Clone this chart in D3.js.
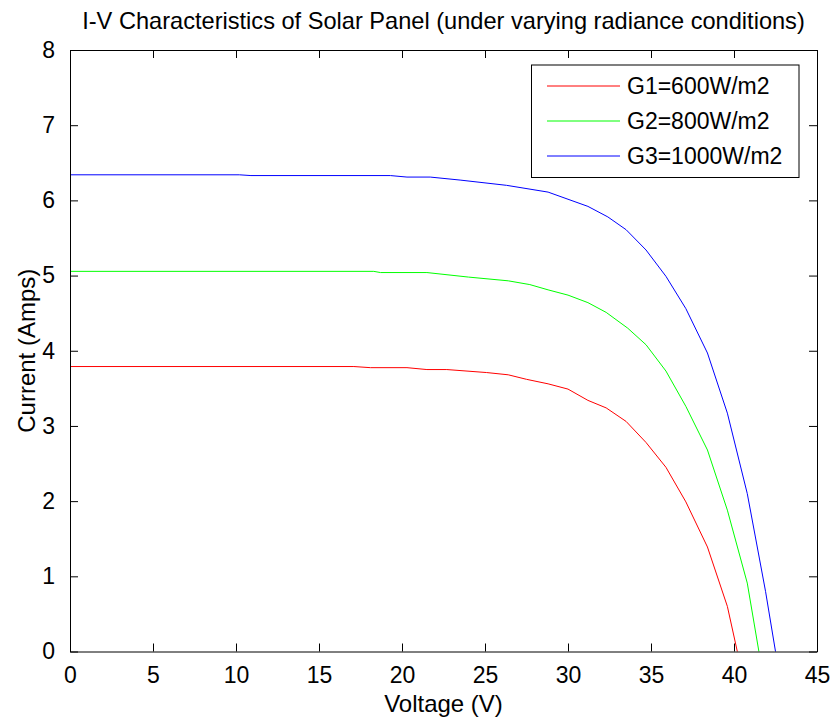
<!DOCTYPE html>
<html>
<head>
<meta charset="utf-8">
<script src="https://cdn.jsdelivr.net/npm/d3@7"></script>
<style>
  html, body { margin: 0; padding: 0; background: #fff; }
  svg { display: block; }
  text { font-family: "Liberation Sans", Arial, Helvetica, sans-serif; fill: #000; }
</style>
</head>
<body>
<svg id="chart" width="834" height="721"></svg>
<script>
// ---- data ----
const title = "I-V Characteristics of Solar Panel (under varying radiance conditions)";
const xLabel = "Voltage (V)";
const yLabel = "Current (Amps)";
const xTicks = [0, 5, 10, 15, 20, 25, 30, 35, 40, 45];
const yTicks = [0, 1, 2, 3, 4, 5, 6, 7, 8];
const seriesNames = ["G1=600W/m2", "G2=800W/m2", "G3=1000W/m2"];
const seriesColors = ["#ff0000", "#00ff00", "#0000ff"];

const g1Voltage = [0, 17.1, 18.1, 20.3, 21.5, 22.7, 25.1, 26.4, 27.5, 28.8, 30.0, 31.2, 32.3, 33.5, 34.7, 35.9, 37.1, 38.4, 39.6, 40.2];
const g1Current = [3.79, 3.79, 3.775, 3.775, 3.75, 3.75, 3.71, 3.68, 3.62, 3.56, 3.49, 3.34, 3.24, 3.06, 2.78, 2.45, 1.99, 1.39, 0.60, 0];

const g2Voltage = [0, 18.3, 18.7, 21.5, 24.0, 26.4, 27.7, 28.8, 30.0, 31.2, 32.3, 33.6, 34.7, 35.9, 37.1, 38.4, 39.6, 40.8, 41.5];
const g2Current = [5.056, 5.056, 5.04, 5.04, 4.98, 4.93, 4.88, 4.81, 4.74, 4.64, 4.51, 4.30, 4.08, 3.73, 3.26, 2.68, 1.88, 0.91, 0];

const g3Voltage = [0, 10.2, 10.9, 19.3, 20.3, 21.7, 23.5, 26.3, 28.8, 31.2, 32.4, 33.5, 34.7, 35.9, 37.1, 38.4, 39.6, 40.8, 41.9, 42.5];
const g3Current = [6.34, 6.34, 6.33, 6.33, 6.31, 6.31, 6.27, 6.20, 6.11, 5.92, 5.78, 5.61, 5.34, 4.99, 4.56, 3.97, 3.17, 2.10, 0.80, 0];

const seriesVoltage = [g1Voltage, g2Voltage, g3Voltage];
const seriesCurrent = [g1Current, g2Current, g3Current];

// ---- layout ----
const svg = d3.select("#chart");
const mLeft = 70, mRight = 817, mTop = 50, mBottom = 651.5;
const tickFont = 23, titleFont = 23.6, labelFont = 24, legendFont = 23;

const x = d3.scaleLinear().domain([0, 45]).range([mLeft, mRight]);
const y = d3.scaleLinear().domain([0, 8]).range([mBottom, mTop]);

svg.append("rect").attr("width", 834).attr("height", 721).attr("fill", "#fff");

// series
const line = d3.line().x(d => x(d[0])).y(d => y(d[1]));
seriesNames.forEach((name, i) => {
  const pts = seriesVoltage[i].map((v, j) => [v, seriesCurrent[i][j]]);
  svg.append("path")
    .datum(pts)
    .attr("d", line)
    .attr("fill", "none")
    .attr("stroke", seriesColors[i])
    .attr("stroke-width", 1);
});

// axes (inward ticks, box)
const tickLen = 8;
const xAxisB = d3.axisBottom(x).tickValues(xTicks).tickSize(-tickLen).tickPadding(tickLen + 7).tickSizeOuter(0);
const xAxisT = d3.axisTop(x).tickValues(xTicks).tickSize(-tickLen).tickFormat("").tickSizeOuter(0);
const yAxisL = d3.axisLeft(y).tickValues(yTicks).tickSize(-tickLen).tickPadding(tickLen + 7).tickSizeOuter(0);
const yAxisR = d3.axisRight(y).tickValues(yTicks).tickSize(-tickLen).tickFormat("").tickSizeOuter(0);

function styleAxis(g) {
  g.selectAll("path").attr("stroke", "#000").attr("stroke-width", 1);
  g.selectAll("line").attr("stroke", "#000").attr("stroke-width", 1);
  g.selectAll("text").style("font-size", tickFont + "px").style("font-family", "'Liberation Sans', Arial, sans-serif").attr("fill", "#000");
}
svg.append("g").attr("transform", `translate(0,${mBottom})`).call(xAxisB).call(styleAxis);
svg.append("g").attr("transform", `translate(0,${mTop})`).call(xAxisT).call(styleAxis);
svg.append("g").attr("transform", `translate(${mLeft},0)`).call(yAxisL).call(styleAxis);
svg.append("g").attr("transform", `translate(${mRight},0)`).call(yAxisR).call(styleAxis);

// title & labels
svg.append("text").attr("x", (mLeft + mRight) / 2).attr("y", 29)
  .attr("text-anchor", "middle").style("font-size", titleFont + "px").text(title);
svg.append("text").attr("x", (mLeft + mRight) / 2).attr("y", 712)
  .attr("text-anchor", "middle").style("font-size", labelFont + "px").text(xLabel);
svg.append("text").attr("transform", `translate(35,${(mTop + mBottom) / 2}) rotate(-90)`)
  .attr("text-anchor", "middle").style("font-size", labelFont + "px").text(yLabel);

// legend
const lg = svg.append("g");
lg.append("rect").attr("x", 531.5).attr("y", 65).attr("width", 267.5).attr("height", 112.5)
  .attr("fill", "#fff").attr("stroke", "#000").attr("stroke-width", 1);
const legendY = [86, 121, 156];
seriesNames.forEach((name, i) => {
  lg.append("line").attr("x1", 547).attr("x2", 620).attr("y1", legendY[i]).attr("y2", legendY[i])
    .attr("stroke", seriesColors[i]).attr("stroke-width", 1);
  lg.append("text").attr("x", 627).attr("y", legendY[i]).attr("dy", "0.36em")
    .style("font-size", legendFont + "px").text(name);
});
</script>
</body>
</html>
